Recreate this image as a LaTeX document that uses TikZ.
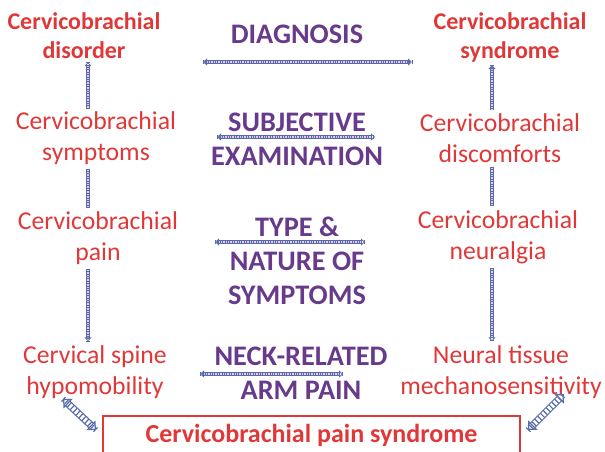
\documentclass[tikz,border=0pt]{standalone}
\usepackage{fontspec}
\setmainfont{Carlito}
\usetikzlibrary{arrows.meta}
\definecolor{cbred}{RGB}{224,56,56}
\definecolor{cbpurple}{RGB}{104,58,140}
\definecolor{cbblue}{RGB}{88,108,170}
\definecolor{cbpink}{RGB}{235,200,235}
\tikzset{
  redtxt/.style={text=cbred, align=center, font=\fontsize{25.7}{31}\selectfont, inner sep=0pt},
  redbold/.style={text=cbred, align=center, font=\fontsize{24}{29}\selectfont\bfseries, inner sep=0pt},
  purptxt/.style={text=cbpurple, align=center, font=\fontsize{28.3}{34}\selectfont\bfseries, inner sep=0pt},
  ladder/.style={draw=cbblue, double=cbpink, double distance=2.4pt, line width=0.9pt,
    postaction={draw=cbblue, line width=3.4pt, dash pattern=on 0.8pt off 1.6pt, -}},
  bigladder/.style={draw=cbblue, double=white, double distance=5pt, line width=1.2pt,
    postaction={draw=cbblue, line width=6pt, dash pattern=on 1.2pt off 2.8pt, -}},
  hd/.tip={Triangle[open, length=4pt, width=7pt, line width=0.8pt]},
  bhd/.tip={Triangle[open, length=7pt, width=13pt, line width=1.2pt]},
}
\begin{document}
\begin{tikzpicture}[x=1pt, y=-1pt]
\useasboundingbox (0,0) rectangle (605,451);
% left column
\node[redbold] (dis) at (84,36) {Cervicobrachial\\disorder};
\node[redtxt] (sym) at (96,138) {Cervicobrachial\\symptoms};
\node[redtxt] (pain) at (98,238) {Cervicobrachial\\pain};
\node[redtxt] (hypo) at (95,372) {Cervical spine\\hypomobility};
% right column
\node[redbold] (syn) at (510,37) {Cervicobrachial\\syndrome};
\node[redtxt] (disc) at (500,138) {Cervicobrachial\\discomforts};
\node[redtxt] (neur) at (498,237) {Cervicobrachial\\neuralgia};
\node[redtxt] (neut) at (501,372) {Neural tissue\\mechanosensitivity};
% middle labels
\node[purptxt] (diag) at (297,34) {DIAGNOSIS};
\node[purptxt] (subj) at (297,139) {SUBJECTIVE\\EXAMINATION};
\node[purptxt] (type) at (297,261) {TYPE \&\\NATURE OF\\SYMPTOMS};
\node[purptxt] (neck) at (301,373) {NECK-RELATED\\ARM PAIN};
% bottom box
\node[draw=cbred, line width=1.5pt, minimum width=417pt, minimum height=38pt, text=cbred,
  font=\fontsize{26}{30}\selectfont\bfseries, inner sep=0pt] (cps) at (311.5,435) {Cervicobrachial pain syndrome};
% anchor coordinates
\coordinate (dL) at (203,62); \coordinate (dR) at (412,62);
\coordinate (sL) at (217,137); \coordinate (sR) at (375,137);
\coordinate (tL) at (215,242); \coordinate (tR) at (365,242);
\coordinate (nL) at (200,374); \coordinate (nR) at (343,374);
% horizontal connectors
\draw[ladder, hd-hd] (dL) -- (dR);
\draw[ladder, hd-hd] (sL) -- (sR);
\draw[ladder, hd-hd] (tL) -- (tR);
\draw[ladder, hd-hd] (nL) -- (nR);
% vertical connectors
\draw[ladder, hd-] ([yshift=-3pt]dis.south -| 88,0) -- ([yshift=3pt]sym.north -| 88,0);
\draw[ladder] ([yshift=-4pt]sym.south -| 88,0) -- ([yshift=4pt]pain.north -| 88,0);
\draw[ladder, -hd] ([yshift=-4pt]pain.south -| 88,0) -- ([yshift=4pt]hypo.north -| 88,0);
\draw[ladder, hd-] ([yshift=-3pt]syn.south -| 492,0) -- ([yshift=3pt]disc.north -| 492,0);
\draw[ladder] ([yshift=-4pt]disc.south -| 492,0) -- ([yshift=4pt]neur.north -| 492,0);
\draw[ladder, -hd] ([yshift=-4pt]neur.south -| 492,0) -- ([yshift=4pt]neut.north -| 492,0);
% diagonal connectors
\coordinate (bl1) at (63,399); \coordinate (bl2) at (96,430);
\coordinate (br1) at (528,430); \coordinate (br2) at (564,394);
\draw[bigladder, bhd-bhd] (bl1) -- (bl2);
\draw[bigladder, bhd-bhd] (br1) -- (br2);
\end{tikzpicture}
\end{document}
